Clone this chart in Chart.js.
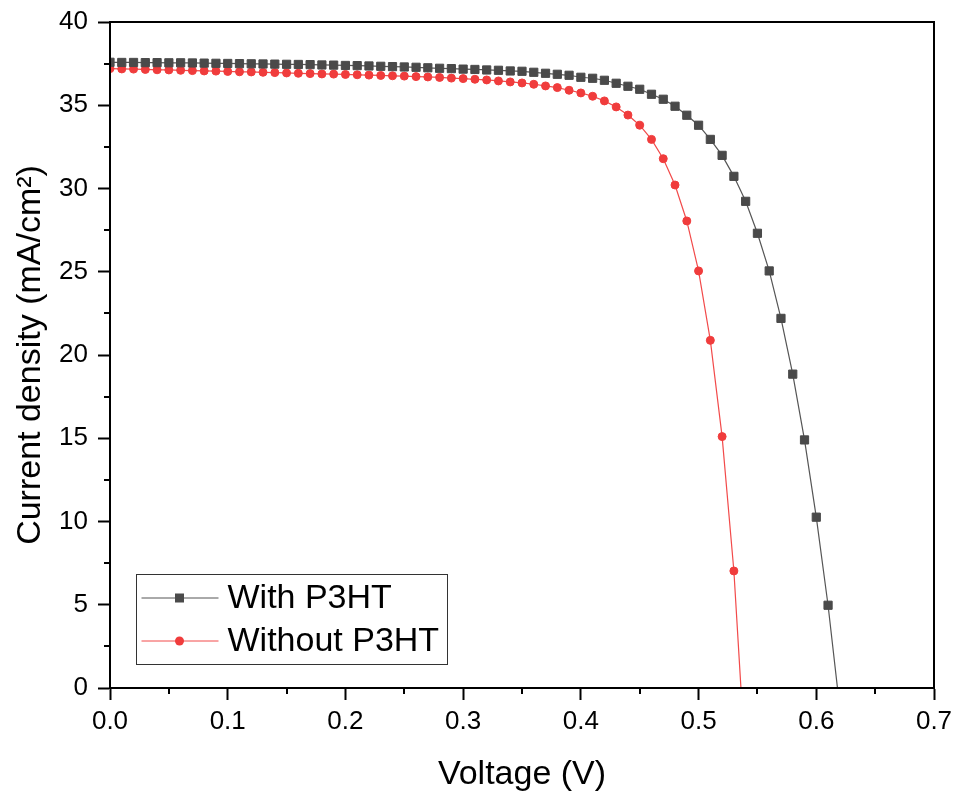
<!DOCTYPE html>
<html>
<head>
<meta charset="utf-8">
<script src="https://cdn.jsdelivr.net/npm/chart.js@4.4.1/dist/chart.umd.min.js"></script>
<style>
  html, body { margin: 0; padding: 0; background: #fff; }
  #wrap { width: 954px; height: 795px; }
</style>
</head>
<body>
<div id="wrap"><canvas id="c" width="954" height="795"></canvas></div>
<script>
const voltageWith = [0.00,0.01,0.02,0.03,0.04,0.05,0.06,0.07,0.08,0.09,0.10,0.11,0.12,0.13,0.14,0.15,0.16,0.17,0.18,0.19,0.20,0.21,0.22,0.23,0.24,0.25,0.26,0.27,0.28,0.29,0.30,0.31,0.32,0.33,0.34,0.35,0.36,0.37,0.38,0.39,0.40,0.41,0.42,0.43,0.44,0.45,0.46,0.47,0.48,0.49,0.50,0.51,0.52,0.53,0.54,0.55,0.56,0.57,0.58,0.59,0.60,0.61,0.618];
const currentWith = [37.58,37.57,37.57,37.56,37.56,37.55,37.55,37.54,37.53,37.52,37.51,37.50,37.49,37.48,37.47,37.46,37.45,37.44,37.42,37.41,37.39,37.38,37.36,37.34,37.32,37.30,37.28,37.25,37.22,37.20,37.17,37.15,37.12,37.10,37.06,37.04,36.98,36.92,36.86,36.80,36.68,36.62,36.50,36.32,36.14,35.96,35.66,35.36,34.94,34.40,33.80,32.95,31.99,30.73,29.23,27.31,25.05,22.20,18.85,14.90,10.26,4.97,0];
const voltageWithout = [0.00,0.01,0.02,0.03,0.04,0.05,0.06,0.07,0.08,0.09,0.10,0.11,0.12,0.13,0.14,0.15,0.16,0.17,0.18,0.19,0.20,0.21,0.22,0.23,0.24,0.25,0.26,0.27,0.28,0.29,0.30,0.31,0.32,0.33,0.34,0.35,0.36,0.37,0.38,0.39,0.40,0.41,0.42,0.43,0.44,0.45,0.46,0.47,0.48,0.49,0.50,0.51,0.52,0.53,0.536];
const currentWithout = [37.20,37.18,37.17,37.15,37.13,37.12,37.10,37.08,37.06,37.05,37.03,37.01,37.00,36.98,36.96,36.94,36.92,36.90,36.88,36.87,36.85,36.83,36.81,36.79,36.77,36.75,36.72,36.70,36.67,36.63,36.60,36.56,36.52,36.46,36.40,36.34,36.26,36.16,36.06,35.90,35.74,35.54,35.26,34.90,34.41,33.80,32.95,31.79,30.21,28.05,25.05,20.88,15.10,7.03,0];
const seriesLabels = ['With P3HT', 'Without P3HT'];
const xTitle = 'Voltage (V)';
const yTitle = 'Current density (mA/cm\u00B2)';
const xMinorTicks = [0.05,0.15,0.25,0.35,0.45,0.55,0.65];
const yMinorTicks = [2.5,7.5,12.5,17.5,22.5,27.5,32.5,37.5];

const FONT = "'Liberation Sans', Arial, sans-serif";
const BLACK_COL = '#4a4a4a';
const RED_COL = '#f03c3c';

function toXY(xs, ys) { return xs.map((x, i) => ({ x: x, y: ys[i] })); }

const frameAndMinor = {
  id: 'frameAndMinor',
  afterDraw(chart) {
    const { ctx, chartArea: a, scales } = chart;
    ctx.save();
    ctx.strokeStyle = '#000';
    ctx.lineWidth = 2;
    ctx.strokeRect(a.left, a.top, a.right - a.left, a.bottom - a.top);
    ctx.beginPath();
    xMinorTicks.forEach(v => {
      const px = Math.round(scales.x.getPixelForValue(v));
      ctx.moveTo(px, a.bottom); ctx.lineTo(px, a.bottom + 6);
    });
    yMinorTicks.forEach(v => {
      const py = Math.round(scales.y.getPixelForValue(v));
      ctx.moveTo(a.left, py); ctx.lineTo(a.left - 6, py);
    });
    ctx.stroke();

    // legend
    const bx = a.left + 26.5, by = a.bottom - 113.5, bw = 311, bh = 90;
    ctx.lineWidth = 1;
    ctx.strokeStyle = '#333';
    ctx.strokeRect(bx, by, bw, bh);
    const rows = [by + 23.5, by + 66.5];
    chart.data.datasets.forEach((ds, i) => {
      const y = rows[i];
      ctx.strokeStyle = ds.borderColor;
      ctx.lineWidth = 1;
      ctx.beginPath(); ctx.moveTo(bx + 5, y); ctx.lineTo(bx + 82, y); ctx.stroke();
      ctx.fillStyle = ds.pointBackgroundColor;
      const cx = bx + 43;
      if (ds.pointStyle === 'rect') {
        ctx.fillRect(cx - 4.5, y - 4.5, 9, 9);
      } else {
        ctx.beginPath(); ctx.arc(cx, y, 4.5, 0, Math.PI * 2); ctx.fill();
      }
      ctx.fillStyle = '#000';
      ctx.font = '34px ' + FONT;
      ctx.textBaseline = 'middle';
      ctx.textAlign = 'left';
      ctx.fillText(ds.label, bx + 91, y + 1);
    });
    ctx.restore();
  }
};

new Chart(document.getElementById('c'), {
  type: 'line',
  data: {
    datasets: [
      {
        label: seriesLabels[0],
        data: toXY(voltageWith, currentWith),
        borderColor: '#555555',
        borderWidth: 1.2,
        pointStyle: 'rect',
        pointBackgroundColor: BLACK_COL,
        pointBorderColor: BLACK_COL,
        pointBorderWidth: 1,
        pointRadius: ctx => ctx.dataIndex === voltageWith.length - 1 ? 0 : 5.8,
        tension: 0
      },
      {
        label: seriesLabels[1],
        data: toXY(voltageWithout, currentWithout),
        borderColor: '#f24a4a',
        borderWidth: 1.2,
        pointStyle: 'circle',
        pointBackgroundColor: RED_COL,
        pointBorderColor: RED_COL,
        pointBorderWidth: 1,
        pointRadius: ctx => ctx.dataIndex === voltageWithout.length - 1 ? 0 : 4,
        tension: 0
      }
    ]
  },
  options: {
    responsive: false,
    animation: false,
    devicePixelRatio: 1,
    layout: { padding: { top: 22, right: 20, left: 0, bottom: 0 } },
    plugins: { legend: { display: false }, tooltip: { enabled: false } },
    scales: {
      x: {
        type: 'linear',
        min: 0, max: 0.7,
        afterFit: s => { s.height = 107; s.paddingLeft = 0; s.paddingRight = 0; },
        border: { display: true, color: '#000', width: 2 },
        grid: { display: true, drawOnChartArea: false, drawTicks: true, tickLength: 12, tickColor: '#000', tickWidth: 2 },
        ticks: { stepSize: 0.1, padding: 6, color: '#000', font: { family: FONT, size: 26 }, maxRotation: 0,
                 callback: v => Number(v).toFixed(1) },
        title: { display: true, text: xTitle, color: '#000', font: { family: FONT, size: 34 }, padding: { top: 0, bottom: 0 } }
      },
      y: {
        type: 'linear',
        min: 0, max: 40,
        afterFit: s => { s.width = 110; s.paddingTop = 0; s.paddingBottom = 0; },
        border: { display: true, color: '#000', width: 2 },
        grid: { display: true, drawOnChartArea: false, drawTicks: true, tickLength: 12, tickColor: '#000', tickWidth: 2 },
        ticks: { stepSize: 5, padding: 10, color: '#000', font: { family: FONT, size: 26 } },
        title: { display: true, text: yTitle, color: '#000', font: { family: FONT, size: 34 }, padding: { top: 10, bottom: 0 } }
      }
    }
  },
  plugins: [frameAndMinor]
});
</script>
</body>
</html>
